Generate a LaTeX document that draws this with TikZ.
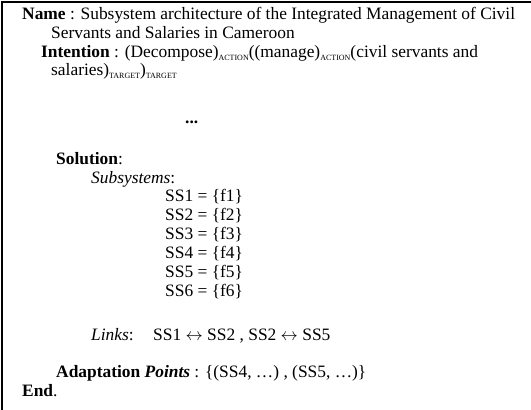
\documentclass[tikz,border=0pt]{standalone}
\usepackage{fontspec}
\setmainfont{Liberation Serif}
\usetikzlibrary{positioning}

% small upper-case tags under the brackets
\newcommand{\roletag}[1]{\raisebox{-0.4ex}{\fontsize{8}{9}\selectfont #1}}

\tikzset{
  txt/.style={anchor=base west, inner sep=0pt, font=\fontsize{17.4}{19}\selectfont},
  frame/.style={line width=2pt}
}

\begin{document}
\begin{tikzpicture}[x=1pt, y=-1pt]
\useasboundingbox (0,0) rectangle (531,410);

% frame
\coordinate (topleft) at (2,2);
\coordinate (topright) at (531,2);
\coordinate (botleft) at (2,410);
\draw[frame] (botleft) -- (topleft) -- (topright);

% header
\node[txt] (name) at (22,19) {\textbf{Name} : Subsystem architecture of the Integrated Management of Civil};
\node[txt] (name2) at (51,38) {Servants and Salaries in Cameroon};
\node[txt] (intent) at (41,57) {\textbf{Intention} : (Decompose)\roletag{ACTION}((manage)\roletag{ACTION}(civil servants and};
\node[txt] (intent2) at (51,75) {salaries)\roletag{TARGET})\roletag{TARGET}};
\node[txt] (dots) at (185,123) {\textbf{...}};

% solution
\node[txt] (sol) at (56,164) {\textbf{Solution}:};
\node[txt] (subs) at (91,183) {\textit{Subsystems}:};
\foreach \i in {1,...,6} {
    \node[txt] (ss\i) at (165,{183+18.9*\i}) {SS\i{} = \{f\i\}};
}

% links and adaptation points
\node[txt] (links) at (91,340) {\textit{Links}:};
\node[txt] (linkset) at (153,340) {SS1 $\leftrightarrow$ SS2 , SS2 $\leftrightarrow$ SS5};
\node[txt] (adapt) at (56,377) {\textbf{Adaptation \textit{Points}} : \{(SS4, …) , (SS5, …)\}};
\node[txt] (end) at (22,396) {\textbf{End}.};

\end{tikzpicture}
\end{document}
